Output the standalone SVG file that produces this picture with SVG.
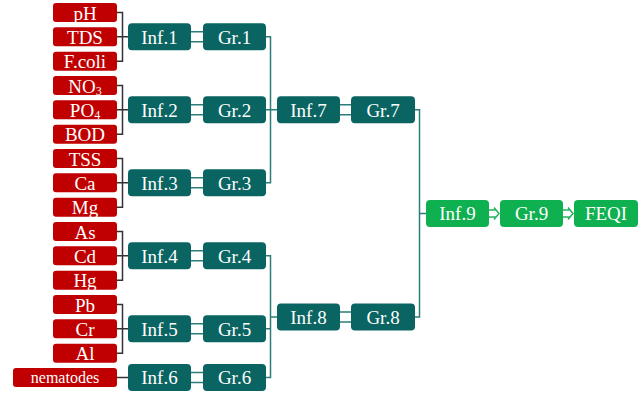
<svg xmlns="http://www.w3.org/2000/svg" width="643" height="393" viewBox="0 0 643 393" font-family="'Liberation Serif', 'Times New Roman', Times, serif">
<style>
.r{fill:#c00000}
.t{fill:#0a6462}
.g{fill:#0fb050}
text{font-family:'Liberation Serif','Times New Roman',Times,serif;fill:#fff;text-anchor:middle;dominant-baseline:central;font-size:19px}
.sm{font-size:16px}
.bk{stroke:#333;stroke-width:1.5;fill:none}
.tl{stroke:#2a7d7a;stroke-width:1.5;fill:none}
.gl{stroke:#22b35a;stroke-width:1.5;fill:none}
</style>
<rect width="643" height="393" fill="#fff"/>
<g id="connectors">
<path class="bk" d="M117 12.5H122.5V61.2H117M117 36.8H128"/>
<path class="bk" d="M117 85.5H122.5V134.2H117M117 109.8H128"/>
<path class="bk" d="M117 158.5H122.5V207.2H117M117 182.8H128"/>
<path class="bk" d="M117 231.5H122.5V280.2H117M117 255.8H128"/>
<path class="bk" d="M117 304.5H122.5V353.2H117M117 328.8H128"/>
<path class="bk" d="M117 377.5H128"/>
<path class="tl" d="M191 31.8H203M191 41.8H203"/>
<path class="tl" d="M191 104.8H203M191 114.8H203"/>
<path class="tl" d="M191 177.8H203M191 187.8H203"/>
<path class="tl" d="M191 250.8H203M191 260.8H203"/>
<path class="tl" d="M191 323.8H203M191 333.8H203"/>
<path class="tl" d="M191 372.5H203M191 382.5H203"/>
<path class="tl" d="M340 104.8H351M340 114.8H351"/>
<path class="tl" d="M340 312H351M340 322H351"/>
<path class="tl" d="M266 36.8H270.5V182.8H266M266 109.8H277"/>
<path class="tl" d="M266 255.8H270.5V377.5H266M266 328.8H270.5M270.5 317H277"/>
<path class="tl" d="M415 109.8H419.5V317H415M419.5 213.5H426"/>
<path class="gl" d="M489 210H496M489 217H496M494 207.5L499 213.5L494 219.5"/>
<path class="gl" d="M563 210H570M563 217H570M568 207.5L573 213.5L568 219.5"/>
</g>
<g id="pH"><rect class="r" x="53" y="3" width="64" height="19" rx="3"/><text x="85" y="13">pH</text></g>
<g id="TDS"><rect class="r" x="53" y="27.3" width="64" height="19" rx="3"/><text x="85" y="37.3">TDS</text></g>
<g id="Fcoli"><rect class="r" x="53" y="51.7" width="64" height="19" rx="3"/><text x="85" y="61.7">F.coli</text></g>
<g id="NO3"><rect class="r" x="53" y="76" width="64" height="19" rx="3"/><text x="85" y="86">NO<tspan font-size="12" dy="5">3</tspan></text></g>
<g id="PO4"><rect class="r" x="53" y="100.3" width="64" height="19" rx="3"/><text x="85" y="110.3">PO<tspan font-size="12" dy="5">4</tspan></text></g>
<g id="BOD"><rect class="r" x="53" y="124.7" width="64" height="19" rx="3"/><text x="85" y="134.7">BOD</text></g>
<g id="TSS"><rect class="r" x="53" y="149" width="64" height="19" rx="3"/><text x="85" y="159">TSS</text></g>
<g id="Ca"><rect class="r" x="53" y="173.3" width="64" height="19" rx="3"/><text x="85" y="183.3">Ca</text></g>
<g id="Mg"><rect class="r" x="53" y="197.7" width="64" height="19" rx="3"/><text x="85" y="207.7">Mg</text></g>
<g id="As"><rect class="r" x="53" y="222" width="64" height="19" rx="3"/><text x="85" y="232">As</text></g>
<g id="Cd"><rect class="r" x="53" y="246.3" width="64" height="19" rx="3"/><text x="85" y="256.3">Cd</text></g>
<g id="Hg"><rect class="r" x="53" y="270.7" width="64" height="19" rx="3"/><text x="85" y="280.7">Hg</text></g>
<g id="Pb"><rect class="r" x="53" y="295" width="64" height="19" rx="3"/><text x="85" y="305">Pb</text></g>
<g id="Cr"><rect class="r" x="53" y="319.3" width="64" height="19" rx="3"/><text x="85" y="329.3">Cr</text></g>
<g id="Al"><rect class="r" x="53" y="343.7" width="64" height="19" rx="3"/><text x="85" y="353.7">Al</text></g>
<g id="nematodes"><rect class="r" x="13" y="368" width="104" height="19" rx="3"/><text class="sm" x="65" y="377.5">nematodes</text></g>
<g id="Inf1"><rect class="t" x="128" y="23.3" width="63" height="27" rx="4"/><text x="159.5" y="37">Inf.1</text></g>
<g id="Inf2"><rect class="t" x="128" y="96.3" width="63" height="27" rx="4"/><text x="159.5" y="110">Inf.2</text></g>
<g id="Inf3"><rect class="t" x="128" y="169.3" width="63" height="27" rx="4"/><text x="159.5" y="183">Inf.3</text></g>
<g id="Inf4"><rect class="t" x="128" y="242.3" width="63" height="27" rx="4"/><text x="159.5" y="256">Inf.4</text></g>
<g id="Inf5"><rect class="t" x="128" y="315.3" width="63" height="27" rx="4"/><text x="159.5" y="329">Inf.5</text></g>
<g id="Inf6"><rect class="t" x="128" y="364" width="63" height="27" rx="4"/><text x="159.5" y="377.7">Inf.6</text></g>
<g id="Gr1"><rect class="t" x="203" y="23.3" width="63" height="27" rx="4"/><text x="234.5" y="37">Gr.1</text></g>
<g id="Gr2"><rect class="t" x="203" y="96.3" width="63" height="27" rx="4"/><text x="234.5" y="110">Gr.2</text></g>
<g id="Gr3"><rect class="t" x="203" y="169.3" width="63" height="27" rx="4"/><text x="234.5" y="183">Gr.3</text></g>
<g id="Gr4"><rect class="t" x="203" y="242.3" width="63" height="27" rx="4"/><text x="234.5" y="256">Gr.4</text></g>
<g id="Gr5"><rect class="t" x="203" y="315.3" width="63" height="27" rx="4"/><text x="234.5" y="329">Gr.5</text></g>
<g id="Gr6"><rect class="t" x="203" y="364" width="63" height="27" rx="4"/><text x="234.5" y="377.7">Gr.6</text></g>
<g id="Inf7"><rect class="t" x="277" y="96.3" width="63" height="27" rx="4"/><text x="308.5" y="110">Inf.7</text></g>
<g id="Gr7"><rect class="t" x="351" y="96.3" width="64" height="27" rx="4"/><text x="383" y="110">Gr.7</text></g>
<g id="Inf8"><rect class="t" x="277" y="303.5" width="63" height="27" rx="4"/><text x="308.5" y="317.2">Inf.8</text></g>
<g id="Gr8"><rect class="t" x="351" y="303.5" width="64" height="27" rx="4"/><text x="383" y="317.2">Gr.8</text></g>
<g id="Inf9"><rect class="g" x="426" y="200" width="63" height="27" rx="4"/><text x="457.5" y="213.7">Inf.9</text></g>
<g id="Gr9"><rect class="g" x="500" y="200" width="63" height="27" rx="4"/><text x="531.5" y="213.7">Gr.9</text></g>
<g id="FEQI"><rect class="g" x="574" y="200" width="64" height="27" rx="4"/><text x="606" y="213.7">FEQI</text></g>
</svg>
